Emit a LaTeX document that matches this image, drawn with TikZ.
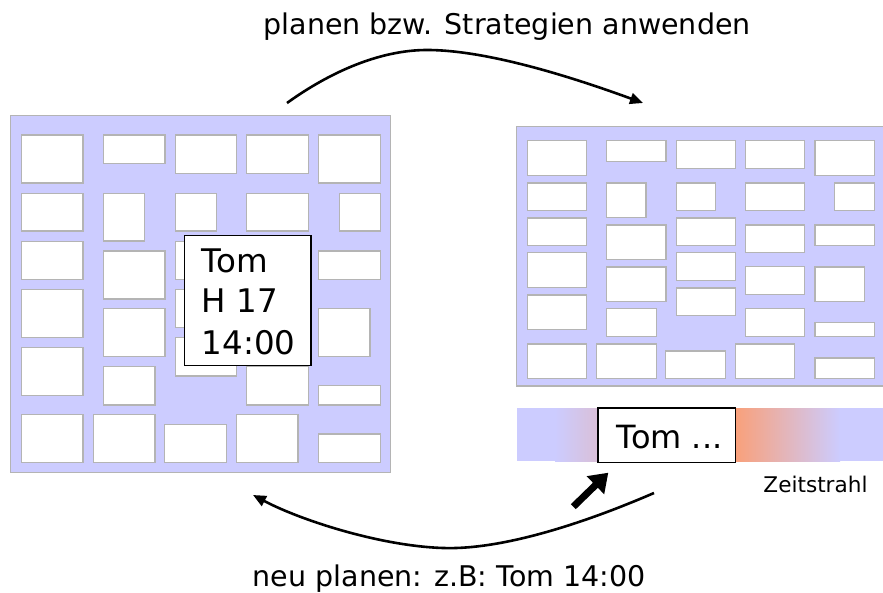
\documentclass[tikz,border=0pt]{standalone}
\usepackage{fontspec}
\setmainfont{DejaVu Sans}
\usetikzlibrary{arrows.meta}
\definecolor{panelfill}{HTML}{CCCCFF}
\definecolor{cellline}{HTML}{B4B4B4}
\definecolor{barorange}{HTML}{F9A07A}
\tikzset{
  cell/.style={draw=cellline, fill=white, line width=1.3pt},
  panel/.style={draw=cellline, fill=panelfill, line width=1.3pt},
  flowarrow/.style={line width=2.6pt, -{Triangle[length=13pt,width=11pt]}},
  bigarrow/.style={line width=7pt, -{Triangle[length=18pt,width=24pt]}},
  lbl/.style={inner sep=0pt, anchor=base west},
  lblc/.style={inner sep=0pt, anchor=base},
  tomframe/.style={draw=black, fill=white, line width=1.4pt, inner sep=0pt, anchor=north west},
}
\newcommand{\drawmycells}{%
  \foreach \a/\b/\c/\d in {
    21.7/135/83/183, 103.7/135/165/163.7, 175.7/135/236.7/173.3, 246.7/135/308.3/173.3, 318.7/135/380.3/183,
    21.7/193.3/83/231, 103.7/193.3/144.3/241, 175.7/193.3/216.3/231, 246.7/193.3/308.3/231, 339.3/193.3/380.3/231,
    21.7/241.3/83/279.7, 103.7/251/165/299, 175.7/241.3/236.7/279.7, 246.7/251/308.3/289.3, 318.7/251/380.3/279.7,
    21.7/289.3/83/337.3, 103.7/308.7/165/356.7, 175.7/289.3/236.7/327.3, 246.7/308.5/308.3/347, 318.7/308.7/370/356.7,
    21.7/347.3/83/395.3, 103.7/366.3/155/405, 175.7/337.7/236.7/376, 246.7/366.3/308.3/405, 318.7/385.7/380.3/405,
    21.7/414.7/83/462.7, 93.3/414.7/155/462.7, 164.7/424.3/226.3/462.7, 236.7/414.7/298/462.7, 318.7/434/380.3/462.7}
  {\draw[cell] (\a,\b) rectangle (\c,\d);}%
}
\begin{document}
\begin{tikzpicture}[x=1pt,y=-1pt]
\useasboundingbox (0,0) rectangle (883,593);
\clip (0,0) rectangle (883,593);

% left panel
\draw[panel] (10.7,115.7) rectangle (390.7,472.7);
\drawmycells

% right panel
\draw[panel] (516.7,126.7) rectangle (890,386);
\begin{scope}[shift={(516.7,126.7)}, xscale=0.968, yscale=0.7264, shift={(-10.7,-115.7)}]
  \drawmycells
\end{scope}

% Tom box on left panel
\node[tomframe, minimum width=126.6pt, minimum height=130.3pt] (tombox) at (183.7,234.7) {};
\node[lbl, font=\fontsize{32.5}{39}\selectfont] (tom1) at (201.7,272.7) {Tom};
\node[lbl, font=\fontsize{32.5}{39}\selectfont] (tom2) at (201.7,312.7) {H 17};
\node[lbl, font=\fontsize{32.5}{39}\selectfont] (tom3) at (201.7,354.3) {14:00};

% timeline bar
\fill[panelfill] (517.3,408.3) rectangle (555,461);
\shade[left color=panelfill, right color=barorange] (555,408.3) rectangle (700,461);
\fill[barorange] (700,408.3) rectangle (735,461);
\shade[left color=barorange, right color=panelfill] (735,408.3) rectangle (840,461);
\fill[panelfill] (840,408.3) rectangle (884,461);
\node[tomframe, minimum width=137.7pt, minimum height=54.7pt] (barbox) at (597.3,407.3) {};
\node[lbl, font=\fontsize{32}{38}\selectfont] (bartext) at (616.7,448.3) {Tom ...};
\node[lblc, font=\fontsize{21.6}{26}\selectfont] (zeit) at (815.5,492.7) {Zeitstrahl};

% labels
\node[lblc, font=\fontsize{28.5}{34}\selectfont] (toplabel) at (507.2,35) {planen bzw. Strategien anwenden};
\node[lblc, font=\fontsize{28.5}{34}\selectfont] (botlabel) at (449.2,586) {neu planen: z.B: Tom 14:00};

% arrows
\coordinate (topstart) at (287,103);
\coordinate (toppeak) at (427,50);
\coordinate (topend) at (643,103);
\draw[flowarrow] (topstart) .. controls +(43,-31) and +(-47,0) .. (toppeak)
  .. controls +(63,0) and +(-63,-23) .. (topend);

\coordinate (botstart) at (654,493);
\coordinate (botlow) at (443,548);
\coordinate (botend) at (253,495);
\draw[flowarrow] (botstart) .. controls +(-74,32) and +(57,2) .. (botlow)
  .. controls +(-63,-2) and +(47,25) .. (botend);

\coordinate (bigs) at (573.3,506.7);
\coordinate (bige) at (608.3,472.7);
\draw[bigarrow] (bigs) -- (bige);
\end{tikzpicture}
\end{document}
